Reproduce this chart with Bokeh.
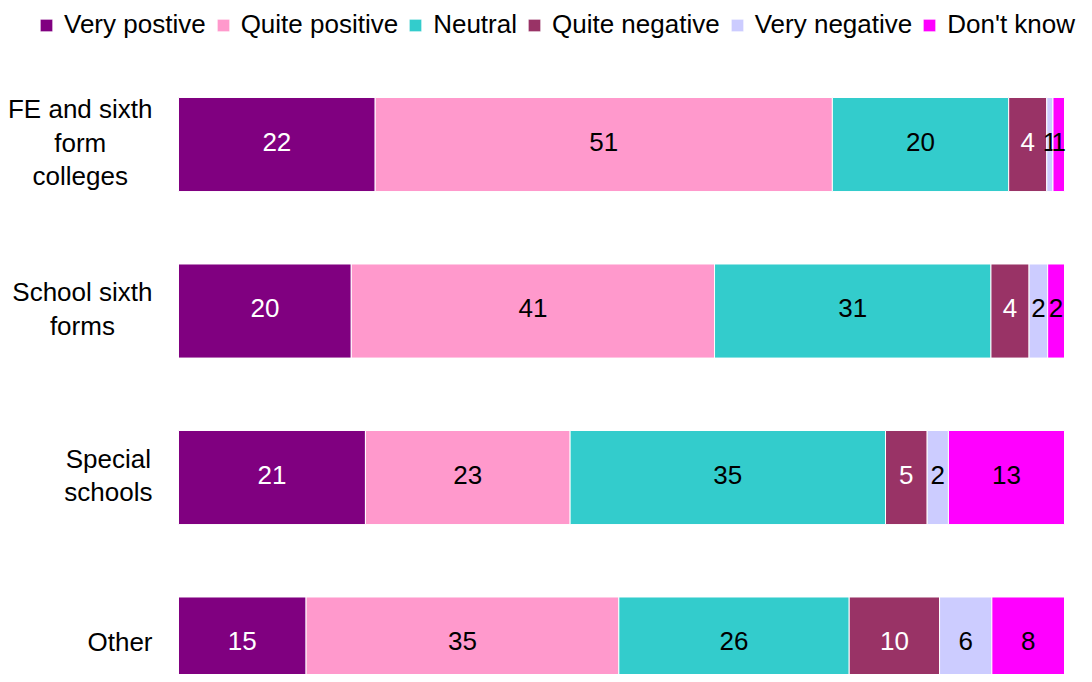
import numpy as np
from bokeh.plotting import figure
from bokeh.models import ColumnDataSource, Range1d, Legend, LegendItem
from bokeh.core.properties import value
from bokeh.embed import file_html
from bokeh.resources import INLINE

categories = ["FE and sixth form colleges", "School sixth forms", "Special schools", "Other"]
category_labels = ["FE and sixth\nform\ncolleges", "School sixth\nforms", "Special\nschools", "Other"]
series = ["Very postive", "Quite positive", "Neutral", "Quite negative", "Very negative", "Don't know"]
colors = ["#800080", "#FF99CC", "#33CCCC", "#993366", "#CCCCFF", "#FF00FF"]
label_colors = ["white", "black", "black", "white", "black", "black"]

# bar lengths (percent)
very_positive = [22.2, 19.5, 21.1, 14.4]
quite_positive = [51.6, 41.0, 23.1, 35.3]
neutral = [19.9, 31.2, 35.6, 26.0]
quite_negative = [4.3, 4.3, 4.7, 10.2]
very_negative = [0.7, 2.1, 2.4, 5.9]
dont_know = [1.3, 1.9, 13.1, 8.2]

# printed data labels
very_positive_lbl = [22, 20, 21, 15]
quite_positive_lbl = [51, 41, 23, 35]
neutral_lbl = [20, 31, 35, 26]
quite_negative_lbl = [4, 4, 5, 10]
very_negative_lbl = [1, 2, 2, 6]
dont_know_lbl = [1, 2, 13, 8]

values = [very_positive, quite_positive, neutral, quite_negative, very_negative, dont_know]
labels = [very_positive_lbl, quite_positive_lbl, neutral_lbl, quite_negative_lbl,
          very_negative_lbl, dont_know_lbl]

FONT = "Liberation Sans"
ypos = np.arange(len(categories))[::-1].astype(float)

p = figure(width=1076, height=674, output_backend="svg", toolbar_location=None,
           x_range=Range1d(-20.09, 101.354), y_range=Range1d(-0.183, 3.865),
           min_border_left=0, min_border_right=0, min_border_top=0, min_border_bottom=0)
p.xaxis.visible = False
p.yaxis.visible = False
p.grid.visible = False
p.outline_line_color = None
p.background_fill_color = "white"
p.border_fill_color = "white"

# category labels (right-aligned block, centred lines)
cat_src = ColumnDataSource(dict(x=np.zeros(len(categories)), y=ypos, txt=category_labels))
p.text(x="x", y="y", text="txt", source=cat_src, x_offset=-26, y_offset=-2,
       anchor="center_right", text_align="center", text_baseline="middle",
       text_font=value(FONT), text_font_size="26px", text_color="black",
       text_line_height=1.12)

left = np.zeros(len(categories))
items = []
for name, vals, lbls, col, lcol in zip(series, values, labels, colors, label_colors):
    vals = np.array(vals, dtype=float)
    right = left + vals
    src = ColumnDataSource(dict(y=ypos, left=left, right=right, mid=(left + right) / 2,
                                txt=[str(v) for v in lbls]))
    r = p.hbar(y="y", left="left", right="right", height=0.565, source=src,
               fill_color=col, line_color="white", line_width=1)
    p.text(x="mid", y="y", text="txt", source=src, text_align="center", y_offset=-3,
           text_baseline="middle", text_font=value(FONT), text_font_size="26px",
           text_color=lcol)
    items.append(LegendItem(label=name, renderers=[r]))
    left = right

legend = Legend(items=items, orientation="horizontal", location=(38, 634),
                padding=0, margin=0, spacing=9, glyph_width=16, glyph_height=16,
                label_standoff=10, border_line_color=None, background_fill_alpha=0,
                label_text_font=FONT, label_text_font_size="26px", label_text_color="black")
p.add_layout(legend, "center")

open("out.html", "w").write(file_html(p, INLINE))
